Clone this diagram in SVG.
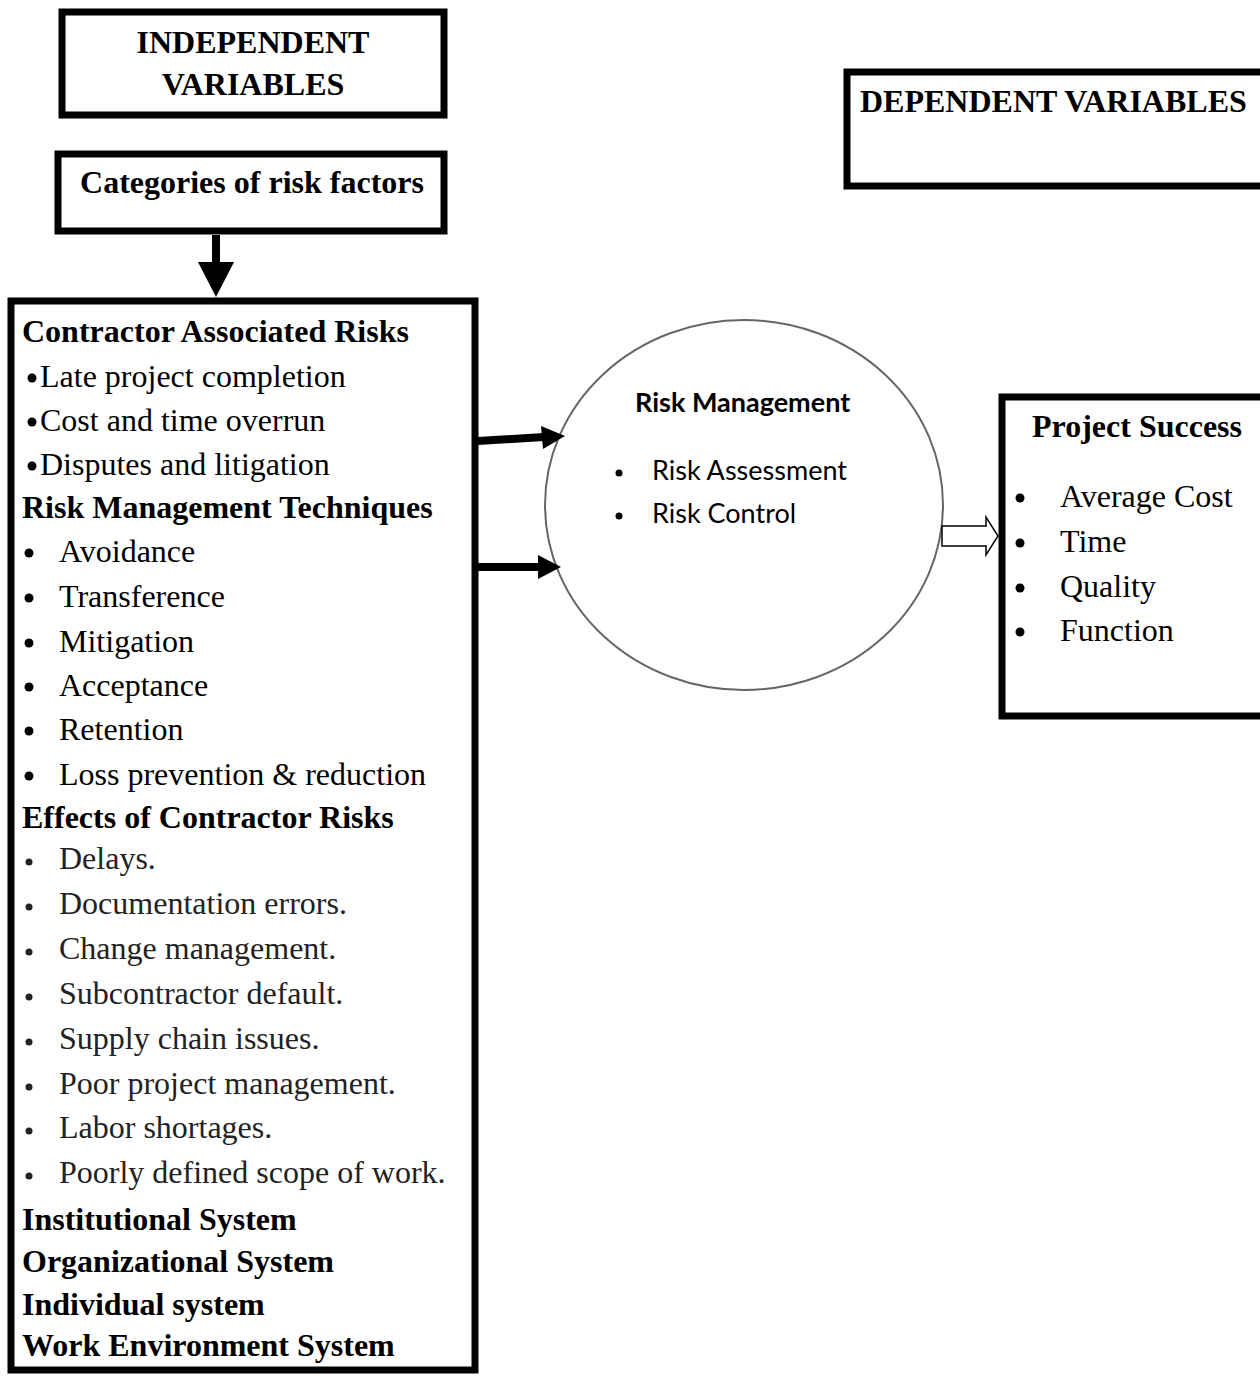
<svg xmlns="http://www.w3.org/2000/svg" width="1260" height="1376" viewBox="0 0 1260 1376">
<style>
.box{fill:#fff;stroke:#000;stroke-width:7}
.t{font-family:"Liberation Serif","Times New Roman",serif;font-size:32px;fill:#000}
.b{font-weight:bold}
.g{fill:#222}
.c{font-family:Lato,"Open Sans",sans-serif;font-size:27px;fill:#000}
.conn{fill:none;stroke:#000;stroke-width:8}
.head{fill:#000;stroke:none}
</style>
<rect width="1260" height="1376" fill="#fff"/>
<g id="independent-variables">
<rect class="box" x="62" y="12" width="382" height="103"/>
<text class="t b" x="253" y="53" text-anchor="middle" font-size="31.5">INDEPENDENT</text>
<text class="t b" x="253" y="95" text-anchor="middle" font-size="31.5">VARIABLES</text>
</g>
<g id="dependent-variables">
<rect class="box" x="847" y="72" width="430" height="114"/>
<text class="t b" x="860" y="112">DEPENDENT VARIABLES</text>
</g>
<g id="categories">
<rect class="box" x="58" y="154" width="386" height="77"/>
<text class="t b" x="252" y="193" text-anchor="middle">Categories of risk factors</text>
</g>
<g id="risk-factors">
<rect class="box" x="11" y="301" width="464" height="1069" stroke-width="8"/>
<text class="t b" x="22" y="342">Contractor Associated Risks</text>
<circle cx="32" cy="378" r="4.5"/><text class="t" x="40" y="387">Late project completion</text>
<circle cx="32" cy="422" r="4.5"/><text class="t" x="40" y="431">Cost and time overrun</text>
<circle cx="32" cy="466" r="4.5"/><text class="t" x="40" y="475">Disputes and litigation</text>
<text class="t b" x="22" y="518">Risk Management Techniques</text>
<circle cx="29" cy="553" r="4.5"/><text class="t" x="59" y="562">Avoidance</text>
<circle cx="29" cy="598" r="4.5"/><text class="t" x="59" y="607">Transference</text>
<circle cx="29" cy="643" r="4.5"/><text class="t" x="59" y="652">Mitigation</text>
<circle cx="29" cy="687" r="4.5"/><text class="t" x="59" y="696">Acceptance</text>
<circle cx="29" cy="731" r="4.5"/><text class="t" x="59" y="740">Retention</text>
<circle cx="29" cy="776" r="4.5"/><text class="t" x="59" y="785">Loss prevention &amp; reduction</text>
<text class="t b" x="22" y="828">Effects of Contractor Risks</text>
<g class="g">
<circle cx="29" cy="862" r="3.5"/><text class="t g" x="59" y="869">Delays.</text>
<circle cx="29" cy="907" r="3.5"/><text class="t g" x="59" y="914">Documentation errors.</text>
<circle cx="29" cy="952" r="3.5"/><text class="t g" x="59" y="959">Change management.</text>
<circle cx="29" cy="997" r="3.5"/><text class="t g" x="59" y="1004">Subcontractor default.</text>
<circle cx="29" cy="1042" r="3.5"/><text class="t g" x="59" y="1049">Supply chain issues.</text>
<circle cx="29" cy="1087" r="3.5"/><text class="t g" x="59" y="1094">Poor project management.</text>
<circle cx="29" cy="1131" r="3.5"/><text class="t g" x="59" y="1138">Labor shortages.</text>
<circle cx="29" cy="1176" r="3.5"/><text class="t g" x="59" y="1183">Poorly defined scope of work.</text>
</g>
<text class="t b" x="22" y="1230">Institutional System</text>
<text class="t b" x="22" y="1272">Organizational System</text>
<text class="t b" x="22" y="1315">Individual system</text>
<text class="t b" x="22" y="1356">Work Environment System</text>
</g>
<g id="risk-management">
<ellipse cx="744" cy="505" rx="199" ry="185" fill="#fff" stroke="#666" stroke-width="2"/>
<text class="c b" x="635" y="412">Risk Management</text>
<circle cx="619" cy="473" r="3.5"/><text class="c" x="652" y="480">Risk Assessment</text>
<circle cx="619" cy="516" r="3.5"/><text class="c" x="652" y="523">Risk Control</text>
</g>
<g id="project-success">
<rect class="box" x="1002" y="397" width="300" height="319"/>
<text class="t b" x="1032" y="437">Project Success</text>
<circle cx="1020" cy="498" r="4.5"/><text class="t" x="1060" y="507">Average Cost</text>
<circle cx="1020" cy="543" r="4.5"/><text class="t" x="1060" y="552">Time</text>
<circle cx="1020" cy="588" r="4.5"/><text class="t" x="1060" y="597">Quality</text>
<circle cx="1020" cy="632" r="4.5"/><text class="t" x="1060" y="641">Function</text>
</g>
<g id="connectors">
<path class="conn" d="M216 235 V264" stroke-width="12"/>
<path class="head" d="M198 262 H234 L216 297 Z"/>
<path class="conn" d="M478 441 L544 437"/>
<path class="head" d="M541 426 L565 436 L543 449 Z"/>
<path class="conn" d="M478 567 H540"/>
<path class="head" d="M538 555 L561 567 L538 579 Z"/>
<path d="M942 526 H986 V517 L998 536 L986 555 V546 H942 Z" fill="#fff" stroke="#000" stroke-width="1.5"/>
</g>
</svg>
